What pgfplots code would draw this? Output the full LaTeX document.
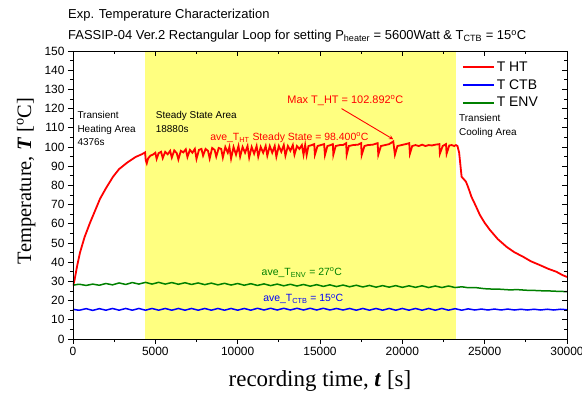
\documentclass[border=0pt]{standalone}
\usepackage{pgfplots}
\pgfplotsset{compat=1.18}
\usepackage{fontspec}
\setmainfont{Liberation Sans}
\newfontfamily\timesfont{Liberation Serif}
\definecolor{yel}{RGB}{255,255,128}
\definecolor{grn}{RGB}{0,128,0}
\newcommand{\fs}[1]{\fontsize{#1}{#1}\selectfont}
\begin{document}
\begin{tikzpicture}
\useasboundingbox (-73bp,-55bp) rectangle (509bp,339bp);
\begin{axis}[
  name=ax, at={(0,0)}, anchor=south west,
  scale only axis, width=494bp, height=288bp,
  xmin=0, xmax=30000, ymin=0, ymax=150,
  xtick={0,5000,...,30000}, ytick={0,10,...,150},
  minor x tick num=1, minor y tick num=1,
  scaled x ticks=false,
  xticklabel style={/pgf/number format/1000 sep={}},
  /pgf/number format/assume math mode=true,
  tick label style={font=\fs{12}},
  tick align=outside, xtick pos=bottom, ytick pos=left,
  major tick length=5bp, minor tick length=3bp,
  axis line style={line width=0.9bp},
  every tick/.style={line width=0.8bp, black},
  axis on top,
  xlabel={{\timesfont recording time, \textbf{\textit{t}} [s]}},
  ylabel={{\timesfont Temperature, \textbf{\textit{T}} [\textsuperscript{o}C]}},
  xlabel style={font=\fs{23}, at={(axis description cs:0.5,0)}, anchor=center, yshift=-42bp},
  ylabel style={font=\fs{20.5}, at={(axis description cs:-0.095,0.549)}, anchor=center},
  legend style={draw=none, fill=none, font=\fs{14}, at={(axis description cs:0.787,0.97)}, anchor=north west, inner sep=0pt, row sep=2.5bp, cells={anchor=west}},
  legend image code/.code={\draw[#1, line width=1.8bp] (0bp,0bp) -- (31bp,0bp);},
]
\addplot[fill=yel, draw=none, forget plot] coordinates {(4376,0) (4376,150) (23256,150) (23256,0)} \closedcycle;

\addplot[red, line width=1.8bp] table {
0 27.5
100 31
250 38
425 45
700 53
1032 60.5
1300 66
1640 73
2000 78.5
2430 84.5
2800 88.5
3280 91.8
3800 94.8
4200 96.3
4376 97.2
4420 93
4480 91.5
4560 94
4700 95.5
4850 96
5000 97
5080 93.8
5200 96.8
5350 97.5
5450 94.2
5600 97.5
5750 96.2
5900 98
6000 94.5
6150 98.2
6300 96.8
6400 93.5
6550 98
6700 97.2
6850 98.8
6950 94.8
7100 98.5
7250 97
7400 99
7500 93.8
7650 98.5
7800 99
7900 95.5
8050 99
8200 98
8300 94
8450 99.5
8600 98.5
8700 95
8850 99.5
9000 99
9100 94.5
9250 100
9400 97
9500 100
9600 94
9750 100
9900 96
10050 100.5
10150 95
10300 100
10450 97
10600 100.5
10700 94.5
10850 100
11000 96.5
11150 100.5
11250 95
11400 100
11550 97
11700 100.5
11800 95.5
11950 100.5
12100 97
12250 100.5
12350 95
12500 100.5
12650 97.5
12800 101
12900 95.5
13050 100.5
13200 98
13350 101
13450 96
13600 100.5
13750 99
13900 101
14000 96
14100 101
14190 95.8
14300 100.5
14500 101
14650 101.5
14690 96
14850 100.5
15050 101
15250 101.5
15300 95.8
15450 100.5
15650 101
15780 101.5
15810 96
15950 100.5
16200 101
16400 101
16590 102
16620 96
16750 100.5
17000 101
17300 101.2
17500 102
17530 95.8
17700 100.5
17900 101
18200 101.2
18500 102
18540 96
18700 100.5
18950 101
19200 101.5
19450 102.9
19550 96
19700 100.5
19950 101
20200 101.5
20420 102
20460 96.5
20600 100.5
20800 101
21000 100.5
21200 101.2
21400 100.5
21600 101
21800 100.8
22000 101.2
22250 101.5
22280 96.5
22450 100.5
22650 101.5
22690 96.5
22850 100.8
23000 101
23150 100.5
23256 101
23350 100.5
23450 97
23600 84.5
23860 82
24000 79
24200 74
24450 69.5
24710 64.6
25000 60.5
25320 56.8
25800 52
26330 48
26800 45.2
27320 42.9
27800 40.5
28350 38.5
28850 36.6
29360 35
29700 33.4
30000 32.3
};
\addlegendentry{T HT}

\addplot[blue, line width=1.5bp, smooth, tension=0.5] table {
0 15.5
400 15.0
800 15.8
1200 14.9
1600 15.8
2000 15.0
2400 15.9
2800 15.0
3200 15.9
3600 15.0
4000 15.9
4400 15.0
4800 15.9
5200 15.0
5600 15.9
6000 15.0
6400 15.9
6800 15.0
7200 15.9
7600 15.0
8000 15.9
8400 15.0
8800 15.9
9200 15.0
9600 15.9
10000 15.0
10400 15.9
10800 15.0
11200 16.0
11600 15.1
12000 16.0
12400 15.1
12800 16.0
13200 15.1
13600 16.0
14000 15.1
14400 16.0
14800 15.1
15200 16.0
15600 15.1
16000 15.9
16400 15.1
16800 15.9
17200 15.0
17600 15.9
18000 15.0
18400 15.9
18800 15.0
19200 15.9
19600 15.0
20000 15.9
20400 15.0
20800 15.9
21200 15.0
21600 15.9
22000 15.0
22400 15.9
22800 15.0
23200 15.8
23600 15.0
24000 15.7
24400 15.1
24800 15.6
25200 15.1
25600 15.6
26000 15.1
26400 15.6
26800 15.1
27200 15.5
27600 15.1
28000 15.5
28400 15.1
28800 15.5
29200 15.1
29600 15.5
30000 15.2
};
\addlegendentry{T CTB}

\addplot[grn, line width=1.5bp, smooth, tension=0.5] table {
0 28.0
400 28.5
800 27.9
1200 28.6
1600 28.0
2000 28.9
2400 28.2
2800 29.2
3200 28.4
3600 29.4
4000 28.6
4400 29.5
4800 28.6
5200 29.5
5600 28.6
6000 29.4
6400 28.5
6800 29.3
7200 28.4
7600 29.2
8000 28.3
8400 29.1
8800 28.2
9200 29.0
9600 28.1
10000 28.9
10400 28.0
10800 28.8
11200 27.9
11600 28.7
12000 27.8
12400 28.6
12800 27.7
13200 28.5
13600 27.6
14000 28.4
14400 27.5
14800 28.3
15200 27.4
15600 28.2
16000 27.3
16400 28.1
16800 27.2
17200 28.0
17600 27.1
18000 27.9
18400 27.0
18800 27.8
19200 27.0
19600 27.8
20000 26.9
20400 27.7
20800 26.9
21200 27.7
21600 26.8
22000 27.6
22400 26.8
22800 27.6
23200 26.8
23600 27.2
24000 26.7
24400 26.8
25000 26.2
25500 26.0
26000 25.9
26500 25.6
27000 25.7
27500 25.4
28000 25.3
28500 25.1
29000 25.0
29500 24.8
30000 24.7
};
\addlegendentry{T ENV}

\node[anchor=north west, align=left, font=\fontsize{10}{13.5}\selectfont, inner sep=0pt] at (axis cs:263,118.5) {Transient\\Heating Area\\4376s};
\node[anchor=north west, align=left, font=\fontsize{10}{13.5}\selectfont, inner sep=0pt] at (axis cs:5020,118.5) {Steady State Area\\18880s};
\node[anchor=north west, align=left, font=\fontsize{10}{13.5}\selectfont, inner sep=0pt] at (axis cs:23440,117) {Transient\\Cooling Area};
\node[red, font=\fs{11}, inner sep=0pt] at (axis cs:16545,124) {Max T\_HT = 102.892\textsuperscript{o}C};
\draw[red, line width=0.9bp, -stealth] (axis cs:16310,120) -- (axis cs:19450,104);
\node[red, font=\fs{10.5}, inner sep=0pt] at (axis cs:13140,104.7) {ave\_T\textsubscript{HT} Steady State = 98.400\textsuperscript{o}C};
\node[grn, font=\fs{10.5}, inner sep=0pt] at (axis cs:13900,34.4) {ave\_T\textsubscript{ENV} = 27\textsuperscript{o}C};
\node[blue, font=\fs{10.5}, inner sep=0pt] at (axis cs:13980,20.8) {ave\_T\textsubscript{CTB} = 15\textsuperscript{o}C};
\end{axis}
\begin{axis}[
  at={(0,0)}, anchor=south west,
  scale only axis, width=494bp, height=288bp,
  xmin=0, xmax=30000, ymin=0, ymax=150,
  xtick={0,5000,...,30000}, ytick={0,10,...,150},
  minor x tick num=1, minor y tick num=1,
  scaled x ticks=false, scaled y ticks=false,
  xticklabels={}, yticklabels={},
  tick align=inside, xtick pos=top, ytick pos=right,
  major tick length=5bp, minor tick length=3bp,
  axis line style={line width=0.9bp},
  every tick/.style={line width=0.8bp, black},
]
\end{axis}
\node[anchor=west, font=\fs{13}, inner sep=0pt] at (-5bp,324bp) {Exp. Temperature Characterization};
\node[anchor=west, font=\fs{13}, inner sep=0pt] at (-5bp,303bp) {FASSIP-04 Ver.2 Rectangular Loop for setting P\textsubscript{heater} = 5600Watt \& T\textsubscript{CTB} = 15\textsuperscript{o}C};
\end{tikzpicture}
\end{document}
